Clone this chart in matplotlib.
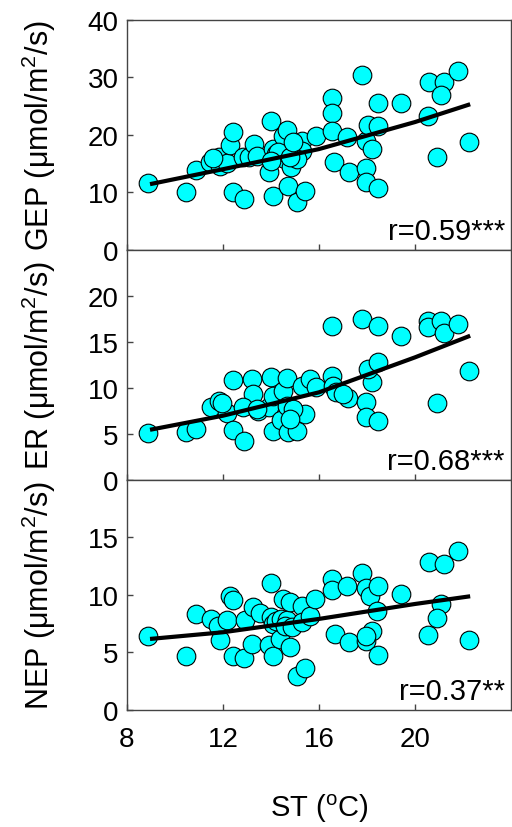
import matplotlib
matplotlib.use("Agg")
import matplotlib.pyplot as plt

plt.rcParams['font.family'] = ['Liberation Sans', 'DejaVu Sans']
plt.rcParams['mathtext.fontset'] = 'custom'
plt.rcParams['mathtext.rm'] = 'Liberation Sans'
plt.rcParams['mathtext.it'] = 'Liberation Sans:italic'

# ============================================================
# DATA
# ============================================================

gep_st = [8.86, 10.45, 10.87, 11.46, 11.85, 11.87, 12.15, 12.29, 12.4, 12.4,
          12.87, 12.82, 13.1, 13.3, 13.43, 13.99, 13.9, 14.1, 14.2, 14.1,
          14.5, 14.68, 14.58, 14.72, 14.82, 15.07, 15.42, 15.3, 15.28, 15.07,
          15.86, 16.55, 16.55, 16.55, 16.64, 17.15, 17.26, 17.78, 17.95, 17.95,
          18.47, 17.96, 18.2, 18.05, 18.44, 18.47, 19.4, 20.55, 20.6, 21.2,
          21.1, 21.8, 20.9, 22.25, 11.6, 14.3, 14.8, 14.0, 14.93]
gep = [11.55, 9.98, 13.9, 15.2, 16.2, 14.6, 15.1, 18.2, 20.5, 10.0,
       8.8, 16.1, 16.2, 18.3, 16.35, 22.3, 13.6, 17.6, 16.6, 9.4,
       19.8, 20.9, 15.8, 11.1, 14.3, 8.35, 10.15, 18.96, 17.2, 15.8,
       19.7, 26.3, 23.7, 20.7, 15.2, 19.55, 13.45, 30.4, 14.15, 11.7,
       10.7, 18.96, 17.5, 21.7, 21.6, 25.6, 25.6, 23.3, 29.1, 29.1,
       26.9, 31.0, 16.2, 18.8, 15.9, 17.0, 16.2, 15.5, 18.7]

er_st = [8.86, 10.45, 10.86, 11.5, 11.85, 12.15, 12.4, 12.89, 12.4, 13.2,
         13.26, 12.85, 13.47, 13.92, 13.99, 14.1, 14.07, 14.4, 14.5, 14.65,
         14.65, 14.72, 15.07, 15.42, 15.28, 15.63, 15.87, 16.53, 16.55, 16.6,
         16.7, 14.93, 14.79, 17.22, 17.0, 17.78, 17.95, 17.95, 18.47, 18.2,
         18.05, 18.44, 18.47, 19.4, 20.55, 20.55, 21.1, 21.2, 21.8, 20.9,
         22.25, 11.95, 13.4]
er = [5.04, 5.2, 5.5, 7.87, 8.6, 7.2, 5.4, 4.17, 10.84, 10.9,
      9.3, 7.9, 7.5, 7.9, 11.2, 9.1, 5.35, 6.5, 9.67, 11.1,
      8.05, 5.18, 5.33, 7.14, 10.2, 10.95, 10.04, 16.67, 11.3, 10.2,
      9.5, 7.7, 6.6, 8.85, 9.3, 17.47, 8.4, 6.8, 6.4, 10.6,
      12.0, 12.8, 16.67, 15.65, 17.3, 16.55, 17.3, 15.95, 16.9, 8.34,
      11.85, 8.3, 7.7]

nep_st = [8.86, 10.45, 10.87, 11.5, 11.8, 12.15, 11.875, 12.29, 12.4, 12.4,
          12.88, 12.92, 13.2, 13.26, 13.54, 13.99, 13.9, 14.07, 14.0, 14.1,
          14.2, 14.4, 14.375, 14.5, 14.65, 14.8, 14.79, 14.58, 14.86, 15.07,
          15.42, 15.3, 15.28, 15.625, 15.83, 16.55, 16.55, 16.67, 17.15, 17.26,
          17.78, 17.95, 18.125, 18.47, 18.43, 18.2, 17.95, 17.98, 18.47, 19.4,
          20.6, 21.2, 21.8, 21.1, 20.9, 20.55, 22.25]
nep = [6.38, 4.67, 8.35, 7.86, 7.3, 7.77, 6.03, 9.86, 9.51, 4.64,
       4.48, 7.77, 5.7, 8.9, 8.4, 11.0, 5.66, 4.65, 8.03, 7.45,
       7.74, 7.89, 6.15, 9.6, 7.8, 9.34, 5.41, 7.3, 7.16, 2.92,
       3.6, 9.04, 7.6, 8.17, 9.6, 11.4, 10.4, 6.6, 10.73, 5.92,
       11.86, 10.55, 9.86, 10.78, 8.6, 6.87, 6.0, 6.43, 4.78, 10.1,
       12.8, 12.67, 13.8, 9.2, 7.95, 6.5, 6.06]

# fitted curves, points
fit_st = [8.96, 12.0, 16.0, 20.0, 22.3]
gep_fit = [11.4, 14.0, 17.5, 22.2, 25.3]
er_fit = [5.43, 6.96, 9.5, 13.3, 15.65]
nep_fit = [6.15, 6.73, 7.89, 9.19, 9.86]

r_labels = ['r=0.59***', 'r=0.68***', 'r=0.37**']
y_labels = ['GEP (\u03bcmol/m$^2$/s)', 'ER (\u03bcmol/m$^2$/s)', 'NEP (\u03bcmol/m$^2$/s)']
y_limits = [(0, 40), (0, 25), (0, 20)]
y_ticks = [[0, 10, 20, 30, 40], [0, 5, 10, 15, 20], [0, 5, 10, 15]]
x_ticks = [8, 12, 16, 20]

# ============================================================
# CHART
# ============================================================

fig = plt.figure(figsize=(5.12, 8.28), dpi=100)
bottoms = [0.6972, 0.4194, 0.1417]
series = [(gep_st, gep, gep_fit), (er_st, er, er_fit), (nep_st, nep, nep_fit)]
spine_col = '#444444'

for i, (xs, ys, fit) in enumerate(series):
    ax = fig.add_axes([0.248, bottoms[i], 0.750, 0.2778])
    ax.scatter(xs, ys, s=180, facecolor='#00FFFF', edgecolor='black',
               linewidths=0.8, zorder=2)
    ax.plot(fit_st, fit, color='black', lw=3, solid_capstyle='butt', zorder=3)

    ax.set_xlim(8, 24)
    ax.set_ylim(*y_limits[i])
    ax.set_xticks(x_ticks)
    ax.set_yticks(y_ticks[i])
    ax.tick_params(direction='in', length=4, width=1, color=spine_col,
                   labelsize=20, pad=6)
    ax.tick_params(axis='x', pad=12)
    for sp in ax.spines.values():
        sp.set_color(spine_col)
        sp.set_linewidth(1)

    ax.set_ylabel(y_labels[i], fontsize=22)
    ax.yaxis.set_label_coords(-0.18, 0.5)
    ax.text(0.984, 0.045, r_labels[i], transform=ax.transAxes,
            ha='right', va='baseline', fontsize=21)

    if i < 2:
        ax.tick_params(axis='x', labelbottom=False)
    else:
        ax.set_xlabel('ST ($^{\\mathrm{o}}$C)', fontsize=21, labelpad=28)

fig.savefig('out.png', dpi=100)
